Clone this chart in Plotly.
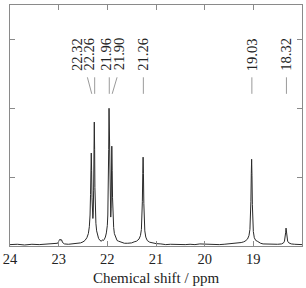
import plotly.graph_objects as go

# ---- data ----
shift_ppm = [
    24.00, 23.85, 23.70, 23.55, 23.40, 23.25, 23.10, 23.05,
    23.02, 22.99, 22.97, 22.955, 22.94, 22.92, 22.88, 22.80, 22.70, 22.60,
    22.55, 22.50, 22.46, 22.42, 22.39, 22.37, 22.355, 22.345, 22.337, 22.33,
    22.323, 22.315, 22.305, 22.297, 22.29, 22.282, 22.275, 22.268, 22.261,
    22.255, 22.245, 22.235, 22.22, 22.20, 22.18, 22.15, 22.12, 22.10,
    22.08, 22.06, 22.04, 22.02, 22.00, 21.99, 21.98, 21.972, 21.965, 21.958,
    21.95, 21.94, 21.93, 21.922, 21.915, 21.908, 21.90, 21.893, 21.883,
    21.87, 21.855, 21.83, 21.80, 21.77, 21.74, 21.70, 21.65, 21.58,
    21.50, 21.45, 21.40, 21.35, 21.32, 21.30, 21.29, 21.28, 21.272, 21.265,
    21.258, 21.25, 21.24, 21.23, 21.21, 21.18, 21.13, 21.08, 21.00, 20.90,
    20.80, 20.70, 20.60, 20.50, 20.40, 20.30, 20.20, 20.10, 20.00, 19.90,
    19.80, 19.70, 19.60, 19.50, 19.40, 19.30, 19.25, 19.20, 19.17, 19.12,
    19.09, 19.07, 19.06, 19.05, 19.042, 19.035, 19.028, 19.02, 19.01,
    19.00, 18.98, 18.95, 18.92, 18.90, 18.85, 18.80, 18.70, 18.60, 18.50,
    18.42, 18.38, 18.36, 18.345, 18.335, 18.328, 18.32, 18.31, 18.295,
    18.27, 18.22, 18.15, 18.08, 18.00,
]
intensity = [
    0.020, 0.025, 0.015, 0.025, 0.020, 0.025, 0.030, 0.035,
    0.040, 0.080, 0.100, 0.080, 0.090, 0.050, 0.030, 0.025, 0.030, 0.035,
    0.045, 0.060, 0.080, 0.120, 0.180, 0.280, 0.450, 0.750, 1.100, 1.350,
    1.100, 0.700, 0.480, 0.400, 0.480, 0.800, 1.350, 1.800, 1.400,
    0.850, 0.500, 0.330, 0.220, 0.150, 0.110, 0.080, 0.070, 0.090,
    0.080, 0.100, 0.130, 0.190, 0.300, 0.450, 0.800, 1.400, 2.000, 1.450,
    0.850, 0.520, 0.420, 0.550, 0.900, 1.450, 1.100, 0.700, 0.420,
    0.270, 0.180, 0.120, 0.080, 0.070, 0.060, 0.045, 0.040, 0.040,
    0.045, 0.060, 0.070, 0.100, 0.150, 0.240, 0.360, 0.650, 1.050, 1.290,
    1.050, 0.620, 0.340, 0.220, 0.130, 0.080, 0.055, 0.045, 0.035, 0.030,
    0.020, 0.025, 0.020, 0.025, 0.020, 0.025, 0.020, 0.030, 0.025, 0.020,
    0.025, 0.020, 0.025, 0.030, 0.035, 0.040, 0.050, 0.060, 0.070, 0.100,
    0.150, 0.240, 0.360, 0.650, 1.050, 1.260, 1.020, 0.600, 0.330,
    0.210, 0.120, 0.080, 0.070, 0.060, 0.040, 0.030, 0.025, 0.020, 0.025,
    0.030, 0.045, 0.070, 0.120, 0.200, 0.260, 0.210, 0.120, 0.070,
    0.045, 0.030, 0.025, 0.020, 0.020,
]
peak_shifts = [22.32, 22.26, 21.96, 21.90, 21.26, 19.03, 18.32]
peak_labels = ["22.32", "22.26", "21.96", "21.90", "21.26", "19.03", "18.32"]
tick_vals = [24, 23, 22, 21, 20, 19, 18]
tick_text = ["24", "23", "22", "21", "20", "19", "18"]

# label placement (layout only)
label_x = [22.61, 22.37, 22.02, 21.76, 21.26, 19.03, 18.32]
conn_top_x = [22.41, 22.26, 21.96, 21.80, 21.26, 19.03, 18.32]
LABEL_Y = 2.53
CONN_TOP = 2.45
CONN_BOT = 2.21

FONT = "Liberation Serif"
FRAME = "#8a8a8a"

fig = go.Figure()
fig.add_trace(go.Scatter(
    x=shift_ppm, y=intensity, mode="lines",
    line=dict(color="#2a2a2a", width=1), hoverinfo="skip", showlegend=False,
))

for lx, cx, px, txt in zip(label_x, conn_top_x, peak_shifts, peak_labels):
    fig.add_shape(type="line", x0=cx, x1=px, y0=CONN_TOP, y1=CONN_BOT,
                  xref="x", yref="y", line=dict(color="#9a9a9a", width=1))
    fig.add_annotation(x=lx, y=LABEL_Y, xref="x", yref="y", text=txt,
                       showarrow=False, textangle=-90, xanchor="center",
                       yanchor="bottom", borderpad=0,
                       font=dict(family=FONT, size=14.5, color="#222"))

fig.update_layout(
    template="none",
    width=306, height=288,
    margin=dict(l=10, r=4, t=5, b=42),
    paper_bgcolor="white", plot_bgcolor="white",
    showlegend=False,
    font=dict(family=FONT, color="#222"),
)
fig.update_xaxes(
    range=[24, 18], tickmode="array", tickvals=tick_vals, ticktext=tick_text,
    ticks="inside", ticklen=5, tickcolor=FRAME, tickwidth=1,
    showline=True, linecolor=FRAME, linewidth=1, mirror="ticks",
    showgrid=False, zeroline=False, automargin=False,
    tickfont=dict(family=FONT, size=14.5, color="#222"),
    title=dict(text="Chemical shift / ppm", standoff=6,
               font=dict(family=FONT, size=15, color="#222")),
)
fig.update_yaxes(
    range=[0, 3.5], tickmode="array", tickvals=[1, 2, 3],
    showticklabels=False,
    ticks="inside", ticklen=5, tickcolor=FRAME, tickwidth=1,
    showline=True, linecolor=FRAME, linewidth=1, mirror="ticks",
    showgrid=False, zeroline=False, automargin=False,
)

fig.write_html("out.html")
